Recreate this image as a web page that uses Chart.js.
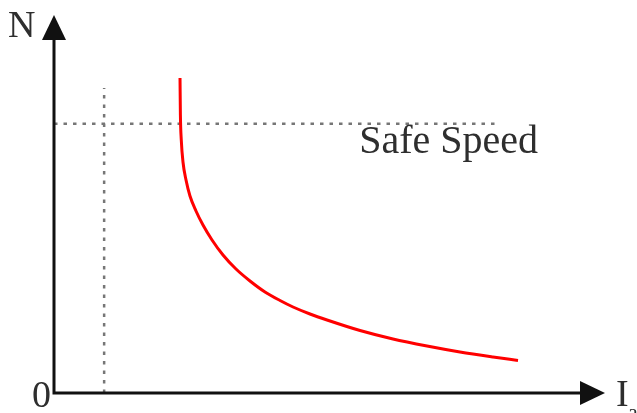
<!DOCTYPE html>
<html>
<head>
<meta charset="utf-8">
<style>
  html, body { margin: 0; padding: 0; background: #fff; }
  canvas { display: block; }
</style>
<script src="https://cdn.jsdelivr.net/npm/chart.js@4/dist/chart.umd.min.js"></script>
</head>
<body>
<canvas id="chart" width="637" height="413"></canvas>
<script>
// Speed (N) against armature current (Ia) of a DC series motor.
const currentIa = [22.87, 22.94, 23.10, 23.41, 23.96, 24.68, 25.77, 27.04, 28.68, 30.67, 33.03, 35.57,
                   38.29, 41.02, 43.38, 46.46, 49.55, 55.54, 61.52, 67.70, 73.68, 79.67, 84.21];
const speedN    = [83.33, 73.54, 66.93, 61.11, 56.35, 52.12, 48.15, 44.44, 40.48, 36.51, 32.80, 29.63,
                   26.72, 24.47, 22.75, 20.90, 19.31, 16.53, 14.29, 12.43, 10.85,  9.52,  8.60];

// Safe-speed level and the no-load current marker
const safeSpeed = 71.2;
const safeLineEnd = 80.4;
const noLoadCurrent = 9.1;
const noLoadLineTop = 80.7;

// Axis / annotation labels
const yAxisLabel = 'N';
const originLabel = '0';
const xAxisLabel = 'I';
const xAxisSub = 'a';
const safeLabel = 'Safe Speed';

const curvePoints = currentIa.map((x, i) => ({ x, y: speedN[i] }));
const safePoints = [{ x: 0, y: safeSpeed }, { x: safeLineEnd, y: safeSpeed }];
const noLoadPoints = [{ x: noLoadCurrent, y: 0 }, { x: noLoadCurrent, y: noLoadLineTop }];

const SERIF = '"Liberation Serif", "DejaVu Serif", serif';

// Draws the arrowed axes and the text labels
const axesPlugin = {
  id: 'arrowAxes',
  afterDatasetsDraw(chart) {
    const ctx = chart.ctx;
    const xs = chart.scales.x, ys = chart.scales.y;
    const x0 = xs.getPixelForValue(0);
    const y0 = ys.getPixelForValue(0);
    const xEnd = xs.getPixelForValue(100);
    const yEnd = ys.getPixelForValue(100);
    const head = 25, half = 12;

    ctx.save();
    ctx.strokeStyle = '#111';
    ctx.fillStyle = '#111';
    ctx.lineWidth = 3;
    ctx.lineCap = 'butt';
    ctx.beginPath();
    ctx.moveTo(x0, y0 + 1.5);
    ctx.lineTo(x0, yEnd + head - 2);
    ctx.moveTo(x0 - 1.5, y0);
    ctx.lineTo(xEnd - head + 2, y0);
    ctx.stroke();

    // arrow heads
    ctx.beginPath();
    ctx.moveTo(x0, yEnd);
    ctx.lineTo(x0 - half, yEnd + head);
    ctx.lineTo(x0 + half, yEnd + head);
    ctx.closePath();
    ctx.fill();
    ctx.beginPath();
    ctx.moveTo(xEnd, y0);
    ctx.lineTo(xEnd - head, y0 - half);
    ctx.lineTo(xEnd - head, y0 + half);
    ctx.closePath();
    ctx.fill();

    // labels
    ctx.fillStyle = '#2e2e2e';
    ctx.textBaseline = 'alphabetic';
    ctx.textAlign = 'left';
    ctx.font = '38px ' + SERIF;
    ctx.fillText(yAxisLabel, x0 - 46, yEnd + 22);
    ctx.fillText(originLabel, x0 - 22, y0 + 14);
    ctx.fillText(xAxisLabel, xEnd + 11, y0 + 13);
    ctx.font = '22px ' + SERIF;
    ctx.fillText(xAxisSub, xEnd + 23, y0 + 26);

    ctx.font = '40px ' + SERIF;
    ctx.fillText(safeLabel, xs.getPixelForValue(55.4), ys.getPixelForValue(safeSpeed) + 29);
    ctx.restore();
  }
};

new Chart(document.getElementById('chart'), {
  type: 'scatter',
  data: {
    datasets: [
      {
        data: safePoints,
        showLine: true,
        borderColor: '#767676',
        borderWidth: 2.5,
        borderDash: [3.5, 6],
        pointRadius: 0,
        order: 2
      },
      {
        data: noLoadPoints,
        showLine: true,
        borderColor: '#767676',
        borderWidth: 2.5,
        borderDash: [3.5, 6],
        pointRadius: 0,
        order: 2
      },
      {
        data: curvePoints,
        showLine: true,
        borderColor: '#ff0000',
        borderWidth: 3,
        cubicInterpolationMode: 'monotone',
        pointRadius: 0,
        order: 1
      }
    ]
  },
  options: {
    responsive: false,
    devicePixelRatio: 1,
    animation: false,
    layout: { padding: { left: 54, right: 32, top: 15, bottom: 20 } },
    plugins: { legend: { display: false }, tooltip: { enabled: false } },
    scales: {
      x: { type: 'linear', min: 0, max: 100, display: false },
      y: { type: 'linear', min: 0, max: 100, display: false }
    }
  },
  plugins: [axesPlugin]
});
</script>
</body>
</html>
